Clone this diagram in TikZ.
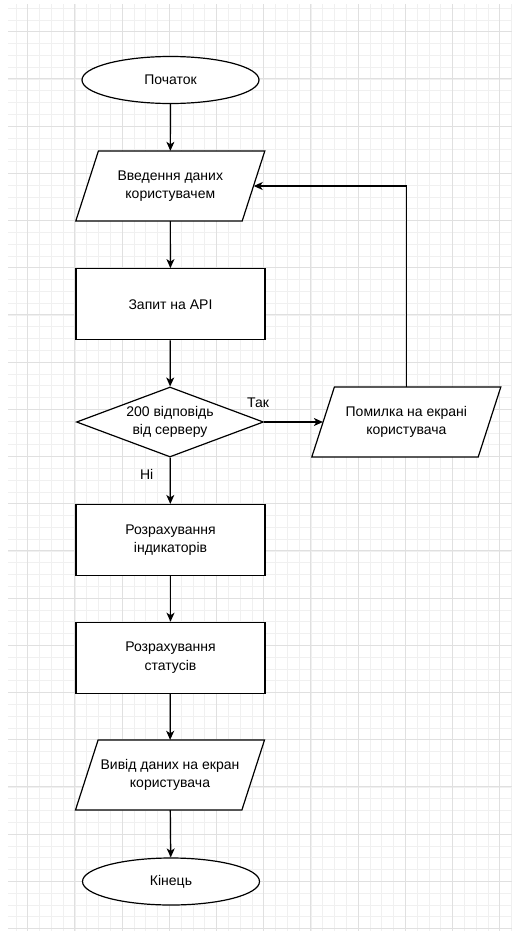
\documentclass[tikz,border=0pt]{standalone}
\usepackage{fontspec}
\setmainfont{Liberation Sans}
\usetikzlibrary{shapes.geometric,arrows.meta,calc}
\newcommand{\ioshapebox}[4]{%
  \coordinate (#1c) at (#2,#3);
  \draw[ioline] ($(#1c)+(-94.5,35)$) -- ($(#1c)+(-71.9,-35)$) -- ($(#1c)+(94.5,-35)$) -- ($(#1c)+(71.9,35)$) -- cycle;
  \node[io] (#1) at (#1c) {#4};}
\begin{document}
\begin{tikzpicture}[x=1pt,y=-1pt,
  base/.style={draw=black, line width=1.2pt, fill=white, font=\fontsize{14}{18.5}\selectfont, align=center, inner sep=0pt},
  lbl/.style={font=\fontsize{14}{18.5}\selectfont, align=center, inner sep=0pt},
  term/.style={base, ellipse, minimum width=177pt, minimum height=47pt},
  proc/.style={base, rectangle, minimum width=189pt, minimum height=71pt},
  io/.style={lbl, rectangle, minimum width=166.4pt, minimum height=70pt},
  ioline/.style={draw=black, line width=1.2pt, fill=white, line join=miter},
  decision/.style={base, diamond, minimum width=187pt, minimum height=70pt},
  flow/.style={line width=1.2pt, -{Stealth[length=9pt,width=8pt,inset=2.5pt]}},
  gridminor/.style={line width=0.8pt, draw=black!6},
  gridmajor/.style={line width=1pt, draw=black!12}]
\useasboundingbox (0,0) rectangle (512,935);
\fill[white] (0,0) rectangle (512,935);
% grid
\begin{scope}
\clip (8,4) rectangle (512,931);
\foreach \i in {-1,...,41} {\draw[gridminor] ({27.7+11.8*\i},4) -- ({27.7+11.8*\i},931);}
\foreach \j in {-2,...,76} {\draw[gridminor] (8,{31.7+11.8*\j}) -- (512,{31.7+11.8*\j});}
\foreach \i in {0,...,10} {\draw[gridmajor] ({27.7+47.2*\i},4) -- ({27.7+47.2*\i},931);}
\foreach \j in {0,...,19} {\draw[gridmajor] (8,{31.7+47.2*\j}) -- (512,{31.7+47.2*\j});}
\end{scope}
% nodes
\node[term] (start) at (170.5,80) {Початок};
\ioshapebox{p1}{170.3}{186}{Введення даних\\користувачем}
\node[proc] (api) at (170.5,304.2) {Запит на API};
\node[decision] (dec) at (170,422) {};
\node[lbl] (dectext) at (dec) {200 відповідь\\від серверу};
\ioshapebox{err}{406.3}{422}{Помилка на екрані\\користувача}
\node[proc] (r1) at (170.5,540) {Розрахування\\індикаторів};
\node[proc] (r2) at (170.5,657.8) {Розрахування\\статусів};
\ioshapebox{out}{170}{775}{Вивід даних на екран\\користувача}
\node[term] (end) at (171,881.5) {Кінець};
\node[lbl] (tak) at (258,403) {Так};
\node[lbl] (ni) at (146.7,474) {Ні};
% connectors
\draw[flow] (start) -- (p1);
\draw[flow] (p1) -- (api);
\draw[flow] (api) -- (dec);
\draw[flow] (dec) -- (err);
\draw[flow] (err.north) |- (p1);
\draw[flow] (dec) -- (r1);
\draw[flow] (r1) -- (r2);
\draw[flow] (r2) -- (out);
\draw[flow] (out) -- (end);
\end{tikzpicture}
\end{document}
